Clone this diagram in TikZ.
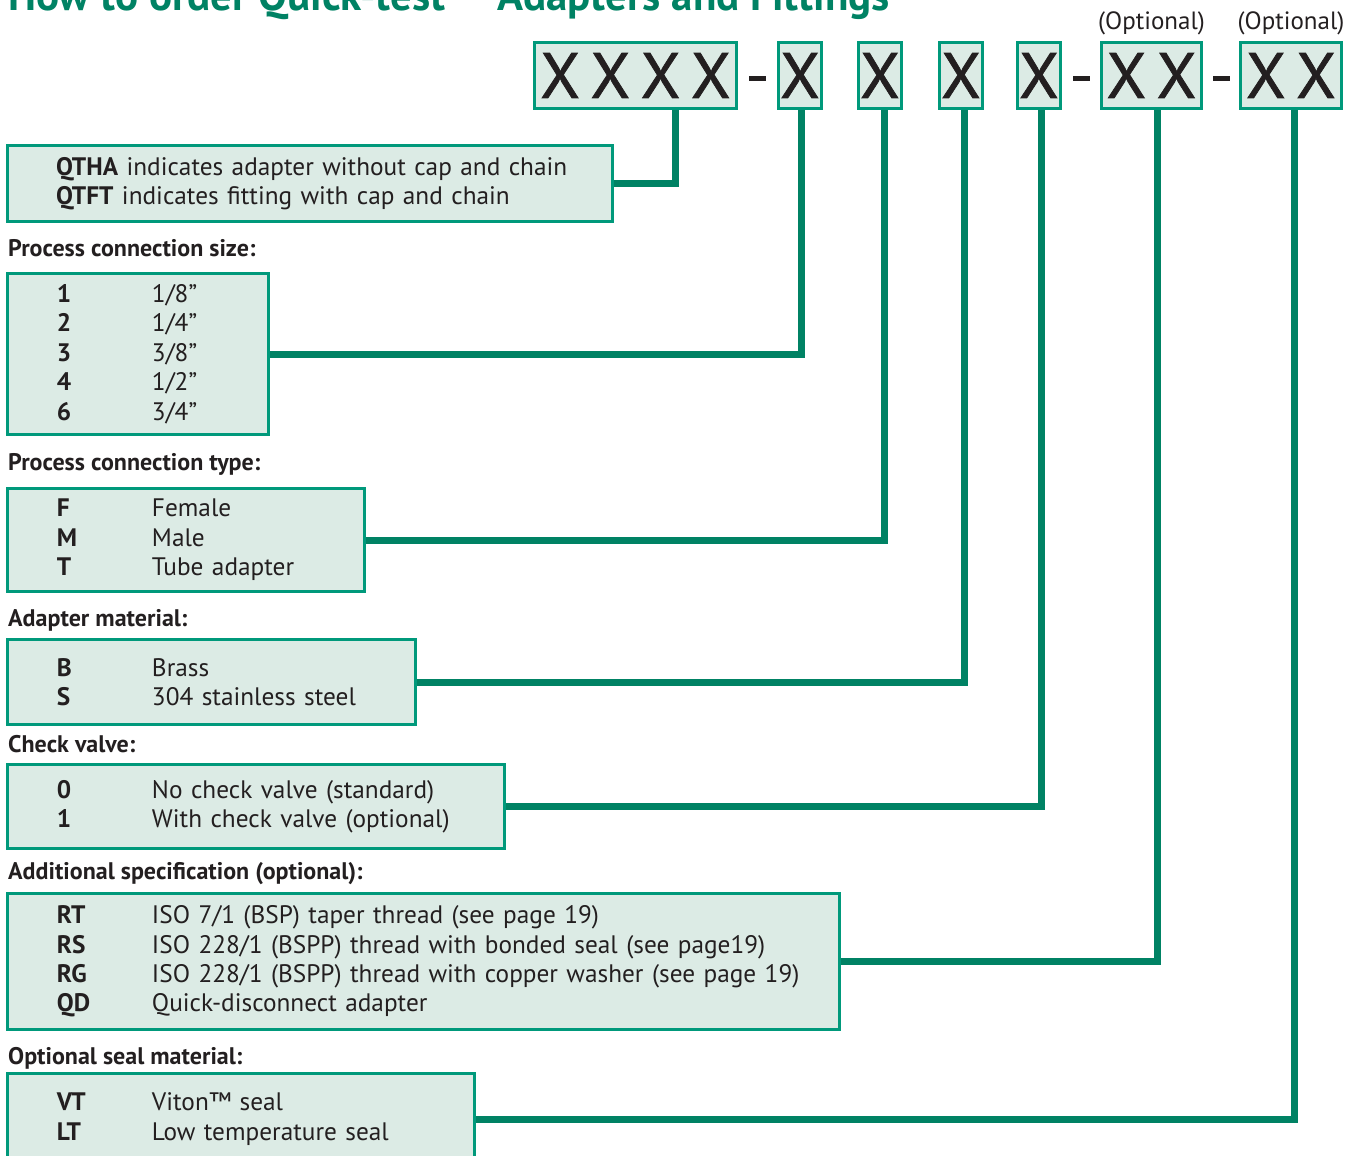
\documentclass[tikz,border=0pt]{standalone}
\usepackage{fontspec}
\setmainfont{PT Sans}
\usepackage{tikz}
\usetikzlibrary{positioning}
\definecolor{linkgreen}{HTML}{008264}
\definecolor{edgegreen}{HTML}{00997B}
\definecolor{boxfill}{HTML}{DCEBE5}
\definecolor{inkblack}{HTML}{231F20}
\tikzset{
	codebox/.style={draw=edgegreen, line width=3pt, fill=boxfill, minimum height=66pt,
		inner sep=0pt, text=inkblack,
		font=\fontsize{64}{64}\selectfont\addfontfeatures{FakeBold=1.2}},
	codedash/.style={fill=inkblack, minimum width=17pt, minimum height=5pt, inner sep=0pt},
	descbox/.style={draw=edgegreen, line width=3pt, fill=boxfill, anchor=north west,
		inner sep=0pt, align=left, text=inkblack, font=\fontsize{25.3}{29.4}\selectfont},
	heading/.style={anchor=base west, inner sep=0pt, text=inkblack,
		font=\fontsize{24}{29}\selectfont\bfseries},
	optlabel/.style={inner sep=0pt, text=inkblack, font=\fontsize{25}{25}\selectfont},
	link/.style={draw=linkgreen, line width=7pt},
}
\newcommand{\optrow}[2]{\hspace*{49.5pt}\makebox[95pt][l]{\bfseries #1}#2}

\begin{document}
\begin{tikzpicture}[x=1pt, y=-1pt, node distance=35pt]
	\useasboundingbox (0,0) rectangle (1363,1156);
	\clip (0,0) rectangle (1363,1156);

	% title, cut at the top edge
	\node[anchor=base west, inner sep=0pt, text=linkgreen,
		font=\fontsize{43}{43}\selectfont\bfseries] (title) at (8,11)
		{How to order Quick-test\texttrademark\ Adapters and Fittings};

	% order code
	\node[codebox, minimum width=202pt] (c1) at (635.5,75.5) {X\,X\,X\,X};
	\node[codebox, minimum width=43pt, right=39pt of c1] (c2) {X};
	\node[codebox, minimum width=43pt, right=34pt of c2] (c3) {X};
	\node[codebox, minimum width=43pt, right=35pt of c3] (c4) {X};
	\node[codebox, minimum width=43pt, right=32pt of c4] (c5) {X};
	\node[codebox, minimum width=100pt, right=38pt of c5] (c6) {X\,X};
	\node[codebox, minimum width=101pt, right=36pt of c6] (c7) {X\,X};
	\node[codedash] (dash1) at (757,79) {};
	\node[codedash] (dash2) at (1081,79) {};
	\node[codedash] (dash3) at (1221,79) {};
	\node[optlabel, above=6pt of c6] (opt6) {(Optional)};
	\node[optlabel, above=6pt of c7] (opt7) {(Optional)};

	% option tables
	\node[descbox, text width=605pt, minimum height=76pt] (dA) at (6,144)
		{\hspace*{48.5pt}\textbf{QTHA} indicates adapter without cap and chain\\
		 \hspace*{48.5pt}\textbf{QTFT} indicates fitting with cap and chain};

	\node[heading] (hB) at (8,256) {Process connection size:};
	\node[descbox, text width=261pt, minimum height=161pt] (dB) at (6,272)
		{\optrow{1}{1/8''}\\ \optrow{2}{1/4''}\\ \optrow{3}{3/8''}\\
		 \optrow{4}{1/2''}\\ \optrow{6}{3/4''}};

	\node[heading] (hC) at (8,470) {Process connection type:};
	\node[descbox, text width=357pt, minimum height=103pt] (dC) at (6,487)
		{\optrow{F}{Female}\\ \optrow{M}{Male}\\ \optrow{T}{Tube adapter}};

	\node[heading] (hD) at (8,626) {Adapter material:};
	\node[descbox, text width=408pt, minimum height=85pt] (dD) at (6,638)
		{\optrow{B}{Brass}\\ \optrow{S}{304 stainless steel}};

	\node[heading] (hE) at (8,752) {Check valve:};
	\node[descbox, text width=497pt, minimum height=84pt] (dE) at (6,763)
		{\optrow{0}{No check valve (standard)}\\
		 \optrow{1}{With check valve (optional)}};

	\node[heading] (hF) at (8,879) {Additional specification (optional):};
	\node[descbox, text width=832pt, minimum height=136pt] (dF) at (6,892)
		{\optrow{RT}{ISO 7/1 (BSP) taper thread (see page 19)}\\
		 \optrow{RS}{ISO 228/1 (BSPP) thread with bonded seal (see page19)}\\
		 \optrow{RG}{ISO 228/1 (BSPP) thread with copper washer (see page 19)}\\
		 \optrow{QD}{Quick-disconnect adapter}};

	\node[heading] (hG) at (8,1064) {Optional seal material:};
	\node[descbox, text width=467pt, minimum height=91pt] (dG) at (6,1072)
		{\optrow{VT}{Viton\texttrademark\ seal}\\
		 \optrow{LT}{Low temperature seal}};

	% connectors
	\draw[link] ([xshift=39.5pt]c1.south) |- (dA.east);
	\draw[link] ([xshift=1pt]c2.south) |- (dB.east);
	\draw[link] ([xshift=4pt]c3.south) |- (dC.east);
	\draw[link] ([xshift=3pt]c4.south) |- (dD.east);
	\draw[link] ([xshift=2pt]c5.south) |- (dE.east);
	\draw[link] ([xshift=5.5pt]c6.south) |- (dF.east);
	\draw[link] ([xshift=3pt]c7.south) |- (dG.east);
\end{tikzpicture}
\end{document}
